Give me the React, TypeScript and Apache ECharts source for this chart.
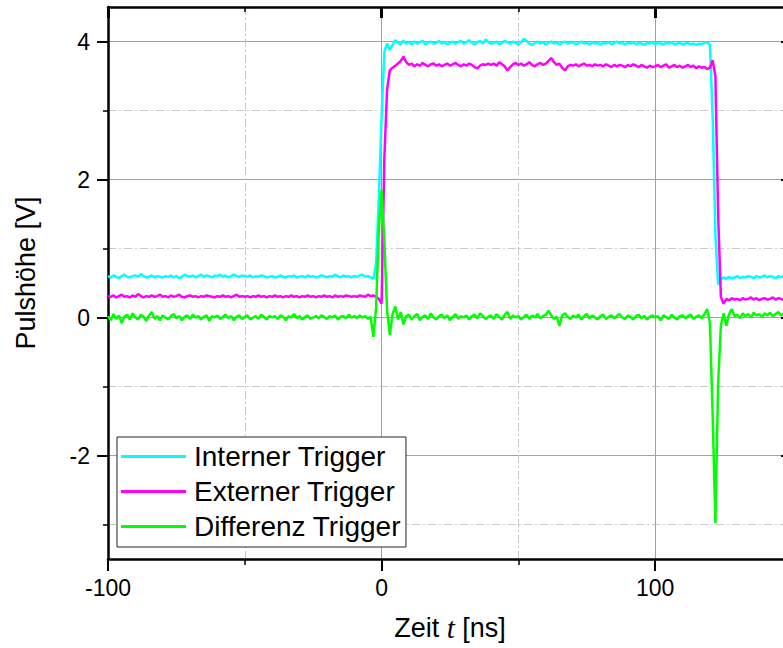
import { useEffect, useRef } from "react";
import * as echarts from "echarts";

// Oscilloscope traces, one sample per nanosecond starting at -100 ns
const SAMPLE_START_NS = -100;
const SAMPLE_STEP_NS = 1;

const INTERNER = [
  0.60, 0.58, 0.61, 0.59, 0.57, 0.60, 0.62, 0.59, 0.58, 0.60,
  0.61, 0.59, 0.63, 0.60, 0.58, 0.59, 0.61, 0.58, 0.60, 0.59,
  0.58, 0.60, 0.59, 0.61, 0.58, 0.60, 0.57, 0.59, 0.62, 0.60,
  0.59, 0.61, 0.58, 0.60, 0.62, 0.59, 0.61, 0.60, 0.58, 0.61,
  0.60, 0.62, 0.59, 0.61, 0.58, 0.60, 0.62, 0.60, 0.59, 0.61,
  0.60, 0.59, 0.61, 0.58, 0.60, 0.59, 0.61, 0.60, 0.58, 0.59,
  0.60, 0.58, 0.59, 0.61, 0.59, 0.58, 0.60, 0.59, 0.61, 0.58,
  0.59, 0.60, 0.58, 0.61, 0.59, 0.60, 0.58, 0.59, 0.61, 0.60,
  0.58, 0.60, 0.59, 0.62, 0.60, 0.58, 0.61, 0.59, 0.60, 0.58,
  0.60, 0.59, 0.61, 0.62, 0.59, 0.60, 0.58, 0.56, 0.78, 1.75,
  2.90, 3.85, 3.97, 3.88, 3.95, 4.02, 3.98, 3.96, 4.01, 3.97,
  3.99, 3.96, 4.00, 3.97, 3.99, 4.01, 3.96, 3.98, 4.00, 3.97,
  3.98, 4.01, 3.97, 3.99, 3.96, 3.98, 4.00, 3.97, 3.99, 4.01,
  3.97, 3.99, 4.02, 3.98, 3.96, 3.99, 4.01, 3.97, 4.03, 3.99,
  3.97, 3.98, 4.00, 3.96, 3.98, 4.01, 3.99, 3.97, 4.00, 3.98,
  3.96, 3.99, 4.04, 4.01, 3.97, 3.95, 3.98, 4.00, 3.97, 3.99,
  3.96, 3.98, 4.00, 3.97, 3.99, 3.96, 3.98, 4.00, 3.97, 3.98,
  3.99, 3.96, 3.98, 4.00, 3.97, 3.98, 3.96, 3.99, 3.97, 3.98,
  3.96, 3.98, 3.97, 3.99, 3.96, 3.98, 4.00, 3.97, 3.98, 3.96,
  3.98, 3.97, 3.99, 3.96, 3.98, 3.97, 3.95, 3.98, 3.97, 3.99,
  3.96, 3.98, 3.97, 3.96, 3.98, 3.97, 3.99, 3.96, 3.97, 3.98,
  3.96, 3.97, 3.98, 3.96, 3.97, 3.95, 3.97, 3.96, 3.98, 3.99,
  3.95, 2.90, 1.20, 0.48, 0.55, 0.58, 0.56, 0.59, 0.57, 0.58,
  0.60, 0.57, 0.59, 0.58, 0.60, 0.59, 0.57, 0.60, 0.58, 0.59,
  0.61, 0.58, 0.60, 0.59, 0.57, 0.60, 0.58, 0.61, 0.59, 0.60, 0.58,
];

const EXTERNER = [
  0.31, 0.30, 0.32, 0.29, 0.31, 0.33, 0.30, 0.31, 0.29, 0.32,
  0.30, 0.34, 0.31, 0.29, 0.31, 0.30, 0.32, 0.30, 0.31, 0.33,
  0.30, 0.31, 0.29, 0.32, 0.30, 0.31, 0.33, 0.30, 0.29, 0.31,
  0.32, 0.30, 0.31, 0.29, 0.31, 0.30, 0.32, 0.31, 0.30, 0.29,
  0.31, 0.30, 0.32, 0.30, 0.31, 0.29, 0.31, 0.33, 0.30, 0.31,
  0.30, 0.31, 0.29, 0.31, 0.30, 0.32, 0.30, 0.31, 0.29, 0.31,
  0.30, 0.32, 0.30, 0.31, 0.29, 0.31, 0.30, 0.32, 0.30, 0.31,
  0.29, 0.31, 0.30, 0.32, 0.30, 0.31, 0.29, 0.31, 0.30, 0.32,
  0.30, 0.31, 0.29, 0.32, 0.30, 0.31, 0.30, 0.32, 0.31, 0.30,
  0.31, 0.30, 0.32, 0.31, 0.30, 0.33, 0.31, 0.32, 0.30, 0.27,
  0.20, 2.30, 3.30, 3.58, 3.62, 3.65, 3.68, 3.72, 3.78, 3.70,
  3.66, 3.68, 3.64, 3.67, 3.65, 3.69, 3.66, 3.64, 3.67, 3.68,
  3.65, 3.67, 3.64, 3.66, 3.68, 3.65, 3.67, 3.69, 3.66, 3.64,
  3.67, 3.65, 3.68, 3.66, 3.63, 3.61, 3.65, 3.67, 3.66, 3.68,
  3.66, 3.68, 3.65, 3.70, 3.67, 3.64, 3.58, 3.63, 3.67, 3.69,
  3.66, 3.68, 3.65, 3.67, 3.70, 3.66, 3.64, 3.67, 3.69, 3.66,
  3.68, 3.72, 3.76, 3.70, 3.66, 3.68, 3.62, 3.58, 3.64, 3.66,
  3.65, 3.67, 3.64, 3.66, 3.68, 3.65, 3.66, 3.64, 3.67, 3.65,
  3.66, 3.64, 3.67, 3.65, 3.63, 3.66, 3.64, 3.66, 3.65, 3.63,
  3.66, 3.64, 3.67, 3.65, 3.63, 3.66, 3.64, 3.62, 3.65, 3.63,
  3.64, 3.66, 3.63, 3.65, 3.67, 3.62, 3.64, 3.66, 3.63, 3.65,
  3.62, 3.64, 3.66, 3.63, 3.65, 3.61, 3.64, 3.62, 3.63, 3.60,
  3.62, 3.73, 3.50, 1.50, 0.30, 0.20, 0.27, 0.25, 0.28, 0.26,
  0.27, 0.25, 0.28, 0.26, 0.27, 0.29, 0.26, 0.28, 0.25, 0.27,
  0.28, 0.26, 0.27, 0.29, 0.26, 0.28, 0.27, 0.25, 0.28, 0.26, 0.27,
];

const DIFFERENZ = [
  0.02, -0.04, 0.05, -0.02, 0.03, -0.08, 0.01, 0.04, -0.03, 0.06,
  0.00, -0.03, 0.04, 0.01, -0.05, 0.03, 0.08, -0.02, 0.02, -0.04,
  0.03, 0.00, -0.03, 0.02, 0.05, -0.01, 0.02, -0.04, 0.01, 0.03,
  -0.02, 0.04, 0.00, 0.02, -0.03, 0.01, 0.03, -0.05, 0.02, 0.00,
  0.03, -0.02, 0.01, 0.04, -0.01, 0.02, -0.04, 0.01, 0.03, -0.02,
  0.01, 0.03, -0.03, 0.00, 0.02, -0.02, 0.04, 0.01, -0.03, 0.02,
  0.00, 0.02, -0.02, 0.03, 0.01, -0.04, 0.02, 0.00, 0.05, -0.01,
  0.02, -0.03, 0.01, 0.03, -0.02, 0.00, 0.02, -0.01, 0.03, 0.01,
  -0.02, 0.02, 0.00, 0.03, -0.03, 0.01, 0.02, -0.01, 0.04, 0.00,
  0.02, -0.01, 0.03, 0.00, 0.02, -0.02, 0.01, -0.28, 0.15, 1.30,
  1.85, 1.10, 0.10, -0.25, 0.05, 0.16, -0.03, 0.08, -0.10, 0.02,
  0.04, -0.03, 0.02, 0.05, -0.04, 0.01, 0.03, -0.02, 0.06, 0.00,
  -0.03, 0.02, 0.04, -0.01, 0.03, -0.04, 0.01, 0.05, -0.02, 0.02,
  0.00, 0.03, -0.03, 0.02, 0.04, -0.01, 0.06, 0.02, -0.02, 0.01,
  0.03, -0.02, 0.05, 0.01, -0.03, 0.04, 0.08, -0.02, 0.03, 0.00,
  0.02, -0.03, 0.01, 0.04, -0.02, 0.03, 0.00, 0.05, -0.01, 0.02,
  0.04, 0.10, 0.03, -0.02, 0.01, -0.12, 0.03, 0.06, 0.01, -0.02,
  0.03, 0.00, 0.04, -0.03, 0.02, 0.05, -0.01, 0.03, 0.00, -0.03,
  0.02, 0.04, -0.02, 0.01, 0.03, -0.01, 0.02, 0.05, 0.00, -0.02,
  0.03, 0.01, -0.03, 0.02, 0.04, -0.01, 0.02, -0.03, 0.01, 0.03,
  0.00, 0.02, -0.04, 0.03, 0.01, -0.02, 0.04, 0.00, -0.03, 0.02,
  0.03, -0.01, 0.02, 0.04, -0.02, 0.01, 0.03, -0.01, 0.05, 0.12,
  -0.08, -1.40, -2.98, -0.95, -0.12, 0.06, -0.12, 0.05, 0.12, 0.02,
  0.04, -0.01, 0.06, 0.02, 0.05, 0.00, 0.07, 0.03, 0.05, 0.01,
  0.06, 0.03, 0.07, 0.02, 0.05, 0.08, 0.03, 0.06, 0.04, 0.07, 0.05,
];

const TRACES = [
  { name: "Interner Trigger", color: "#00FFFF", values: INTERNER },
  { name: "Externer Trigger", color: "#FF00FF", values: EXTERNER },
  { name: "Differenz Trigger", color: "#00FF00", values: DIFFERENZ },
];

const X_MIN = -100;
const X_MAX = 150;
const Y_MIN = -3.5;
const Y_MAX = 4.5;
const X_MAJOR = [-100, 0, 100];
const X_MINOR = [-50, 50, 150];
const Y_MAJOR = [-2, 0, 2, 4];
const Y_MINOR = [-3, -1, 1, 3];

const SANS = "'Liberation Sans', Arial, sans-serif";
const MAJOR_GRID = { color: "#a0a0a0", width: 1, type: "solid" as const };
const MINOR_GRID = { color: "#c8c8c8", width: 1, type: [8, 3, 2, 3] };

function frameAxis(
  position: string,
  ticks: number[],
  tickLen: number,
  tickWidth: number,
  inside: boolean,
  showLine: boolean,
  grid: any,
) {
  return {
    type: "value",
    position,
    axisLine: { show: showLine, onZero: false, lineStyle: { color: "#000", width: 2.5 } },
    axisTick: {
      show: true,
      inside,
      length: tickLen,
      customValues: ticks,
      lineStyle: { color: "#000", width: tickWidth },
    },
    axisLabel: { show: false, customValues: ticks },
    splitLine: grid ? { show: true, lineStyle: grid } : { show: false },
    minorTick: { show: false },
    minorSplitLine: { show: false },
  };
}

export default function App() {
  const ref = useRef<HTMLDivElement>(null);

  useEffect(() => {
    if (!ref.current) return;
    document.body.style.overflow = "hidden";
    const chart = echarts.init(ref.current, null, { renderer: "svg" });

    const xBottom = {
      ...frameAxis("bottom", X_MAJOR, 12, 2, false, true, MAJOR_GRID),
      min: X_MIN,
      max: X_MAX,
      interval: 100,
      axisLabel: {
        show: true,
        customValues: X_MAJOR,
        color: "#000",
        fontSize: 23,
        fontFamily: SANS,
        lineHeight: 24,
        margin: 17,
      },
      name: "{a|Zeit }{b|t}{a| [ns]}",
      nameLocation: "middle",
      nameGap: 54,
      nameTextStyle: {
        color: "#000",
        fontSize: 27,
        fontFamily: SANS,
        lineHeight: 30,
        rich: {
          a: { color: "#000", fontSize: 27, fontFamily: SANS, lineHeight: 30 },
          b: {
            color: "#000",
            fontSize: 29,
            fontFamily: "'Liberation Serif', 'Times New Roman', serif",
            fontStyle: "italic",
            lineHeight: 30,
          },
        },
      },
    };
    const xBottomMinor = { ...frameAxis("bottom", X_MINOR, 6, 1.5, false, false, MINOR_GRID), min: X_MIN, max: X_MAX };
    const xTop = { ...frameAxis("top", X_MAJOR, 11, 3, true, true, null), min: X_MIN, max: X_MAX };
    const xTopMinor = { ...frameAxis("top", X_MINOR, 5, 1.5, true, false, null), min: X_MIN, max: X_MAX };

    const yLeft = {
      ...frameAxis("left", Y_MAJOR, 11, 2, false, true, MAJOR_GRID),
      min: Y_MIN,
      max: Y_MAX,
      splitNumber: 4,
      axisLabel: {
        show: true,
        customValues: Y_MAJOR,
        color: "#000",
        fontSize: 23,
        fontFamily: SANS,
        margin: 18,
      },
      name: "Pulshöhe [V]",
      nameLocation: "middle",
      nameGap: 67,
      nameTextStyle: {
        color: "#000",
        fontSize: 27,
        fontFamily: SANS,
        lineHeight: 30,
        padding: [0, 0, 0, 20],
      },
    };
    const yLeftMinor = { ...frameAxis("left", Y_MINOR, 5, 1.5, false, false, MINOR_GRID), min: Y_MIN, max: Y_MAX };
    const yRight = { ...frameAxis("right", Y_MAJOR, 11, 2, true, true, null), min: Y_MIN, max: Y_MAX };
    const yRightMinor = { ...frameAxis("right", Y_MINOR, 5, 1.5, true, false, null), min: Y_MIN, max: Y_MAX };

    chart.setOption({
      animation: false,
      backgroundColor: "#fff",
      grid: { left: 108, right: 28, top: 7, bottom: 89, outerBoundsMode: "none", containLabel: false },
      xAxis: [xBottom, xBottomMinor, xTop, xTopMinor],
      yAxis: [yLeft, yLeftMinor, yRight, yRightMinor],
      legend: {
        left: 117,
        top: 437,
        orient: "vertical",
        icon: "rect",
        itemWidth: 65,
        itemHeight: 3,
        itemGap: 0,
        padding: [2, 5, 3, 4],
        backgroundColor: "#fff",
        borderColor: "#222",
        borderWidth: 1,
        borderRadius: 0,
        selectedMode: false,
        textStyle: {
          color: "#000",
          fontSize: 28,
          fontFamily: SANS,
          lineHeight: 35,
          padding: [0, 0, 0, 3],
        },
        data: TRACES.map((t) => t.name),
      },
      series: TRACES.map((t) => ({
        name: t.name,
        type: "line",
        xAxisIndex: 0,
        yAxisIndex: 0,
        showSymbol: false,
        symbol: "none",
        silent: true,
        color: t.color,
        lineStyle: { color: t.color, width: 2.5 },
        itemStyle: { color: t.color },
        data: t.values.map((v, i) => [SAMPLE_START_NS + i * SAMPLE_STEP_NS, v]),
      })),
    });

    return () => chart.dispose();
  }, []);

  return (
    <div style={{ position: "fixed", left: 0, top: 0, width: 783, height: 648, overflow: "hidden", background: "#fff" }}>
      <div ref={ref} style={{ width: 820, height: 648 }} />
    </div>
  );
}
